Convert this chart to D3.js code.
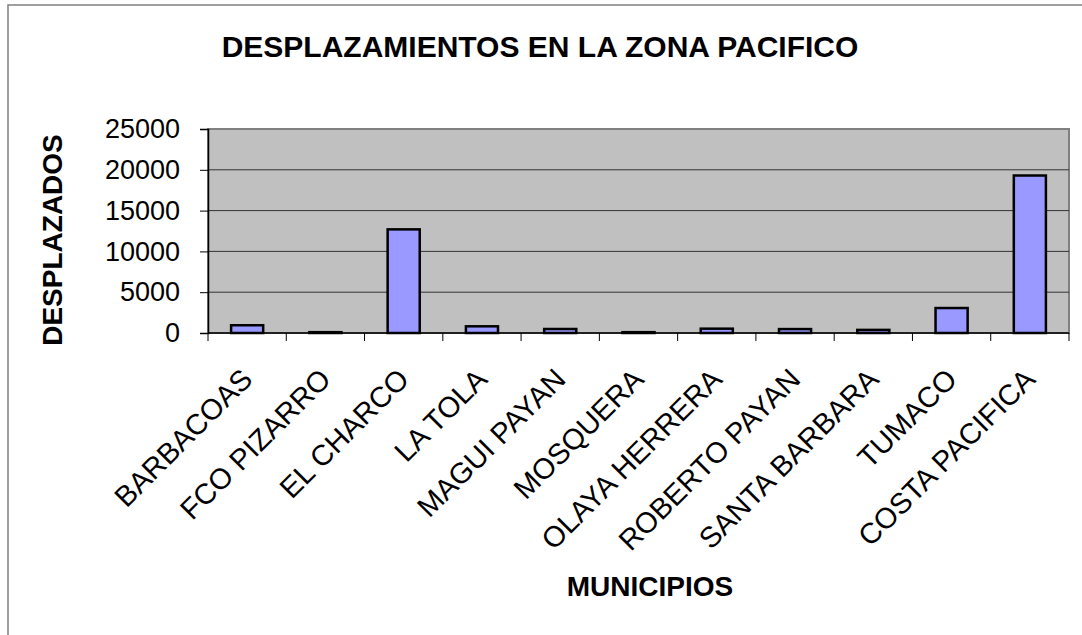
<!DOCTYPE html>
<html>
<head>
<meta charset="utf-8">
<script src="https://cdn.jsdelivr.net/npm/d3@7"></script>
<style>
  body { margin: 0; background: #fff; }
  text { font-family: Arial, "Liberation Sans", sans-serif; }
</style>
</head>
<body>
<svg id="chart" width="1082" height="635"></svg>
<script>
// data
var municipios = ["BARBACOAS", "FCO PIZARRO", "EL CHARCO", "LA TOLA", "MAGUI PAYAN",
  "MOSQUERA", "OLAYA HERRERA", "ROBERTO PAYAN", "SANTA BARBARA", "TUMACO", "COSTA PACIFICA"];
var desplazados = [950, 100, 12700, 820, 490, 100, 530, 480, 380, 3060, 19300];
var yTicks = [0, 5000, 10000, 15000, 20000, 25000];

var svg = d3.select("#chart");

// outer chart frame (only top/left show)
svg.append("rect")
  .attr("x", 8).attr("y", 5).attr("width", 1100).attr("height", 660)
  .attr("fill", "#fff").attr("stroke", "#808080").attr("stroke-width", 1.5);

var pLeft = 208, pRight = 1069, pTop = 129, pBottom = 333;

var x = d3.scaleBand().domain(municipios).range([pLeft, pRight]).paddingInner(0.59).paddingOuter(0.295);
var xCat = d3.scaleBand().domain(municipios).range([pLeft, pRight]);
var y = d3.scaleLinear().domain([0, 25000]).range([pBottom, pTop]);

// plot background
svg.append("rect")
  .attr("x", pLeft).attr("y", pTop).attr("width", pRight - pLeft).attr("height", pBottom - pTop)
  .attr("fill", "#c0c0c0").attr("stroke", "#808080").attr("stroke-width", 2);

// gridlines
svg.append("g").selectAll("line").data(yTicks.slice(1, -1)).enter().append("line")
  .attr("x1", pLeft).attr("x2", pRight)
  .attr("y1", function(d) { return y(d); }).attr("y2", function(d) { return y(d); })
  .attr("stroke", "#333").attr("stroke-width", 1);

// bars
svg.append("g").selectAll("rect").data(desplazados).enter().append("rect")
  .attr("x", function(d, i) { return x(municipios[i]); })
  .attr("width", x.bandwidth())
  .attr("y", function(d) { return y(d); })
  .attr("height", function(d) { return pBottom - y(d); })
  .attr("fill", "#9999ff").attr("stroke", "#000").attr("stroke-width", 2.5);

// y axis
var yAxis = svg.append("g").attr("transform", "translate(" + pLeft + ",0)")
  .call(d3.axisLeft(y).tickValues(yTicks).tickSize(8).tickPadding(20).tickFormat(d3.format("d")));
yAxis.select(".domain").attr("stroke", "#000").attr("stroke-width", 1.5);
yAxis.selectAll(".tick line").attr("stroke", "#000");
yAxis.selectAll(".tick text").attr("font-size", 27).attr("fill", "#000")
  .attr("font-family", "Arial, 'Liberation Sans', sans-serif");

// x axis line + ticks at category borders
svg.append("line").attr("x1", pLeft).attr("x2", pRight).attr("y1", pBottom).attr("y2", pBottom)
  .attr("stroke", "#000").attr("stroke-width", 1.5);
svg.append("g").selectAll("line").data(municipios.concat(["__end"])).enter().append("line")
  .attr("x1", function(d, i) { return pLeft + i * xCat.step(); })
  .attr("x2", function(d, i) { return pLeft + i * xCat.step(); })
  .attr("y1", pBottom).attr("y2", pBottom + 8)
  .attr("stroke", "#000").attr("stroke-width", 1);

// rotated category labels
svg.append("g").selectAll("text").data(municipios).enter().append("text")
  .attr("transform", function(d) {
    return "translate(" + (xCat(d) + xCat.bandwidth() / 2 + 7) + "," + (pBottom + 48) + ") rotate(-45)";
  })
  .attr("text-anchor", "end")
  .attr("font-size", 29)
  .text(function(d) { return d; });

// titles
svg.append("text").attr("x", 540).attr("y", 57).attr("text-anchor", "middle")
  .attr("font-size", 30).attr("font-weight", "bold")
  .text("DESPLAZAMIENTOS EN LA ZONA PACIFICO");

svg.append("text").attr("transform", "translate(62,240) rotate(-90)")
  .attr("text-anchor", "middle").attr("font-size", 28).attr("font-weight", "bold")
  .text("DESPLAZADOS");

svg.append("text").attr("x", 650).attr("y", 596).attr("text-anchor", "middle")
  .attr("font-size", 28).attr("font-weight", "bold")
  .text("MUNICIPIOS");
</script>
</body>
</html>
